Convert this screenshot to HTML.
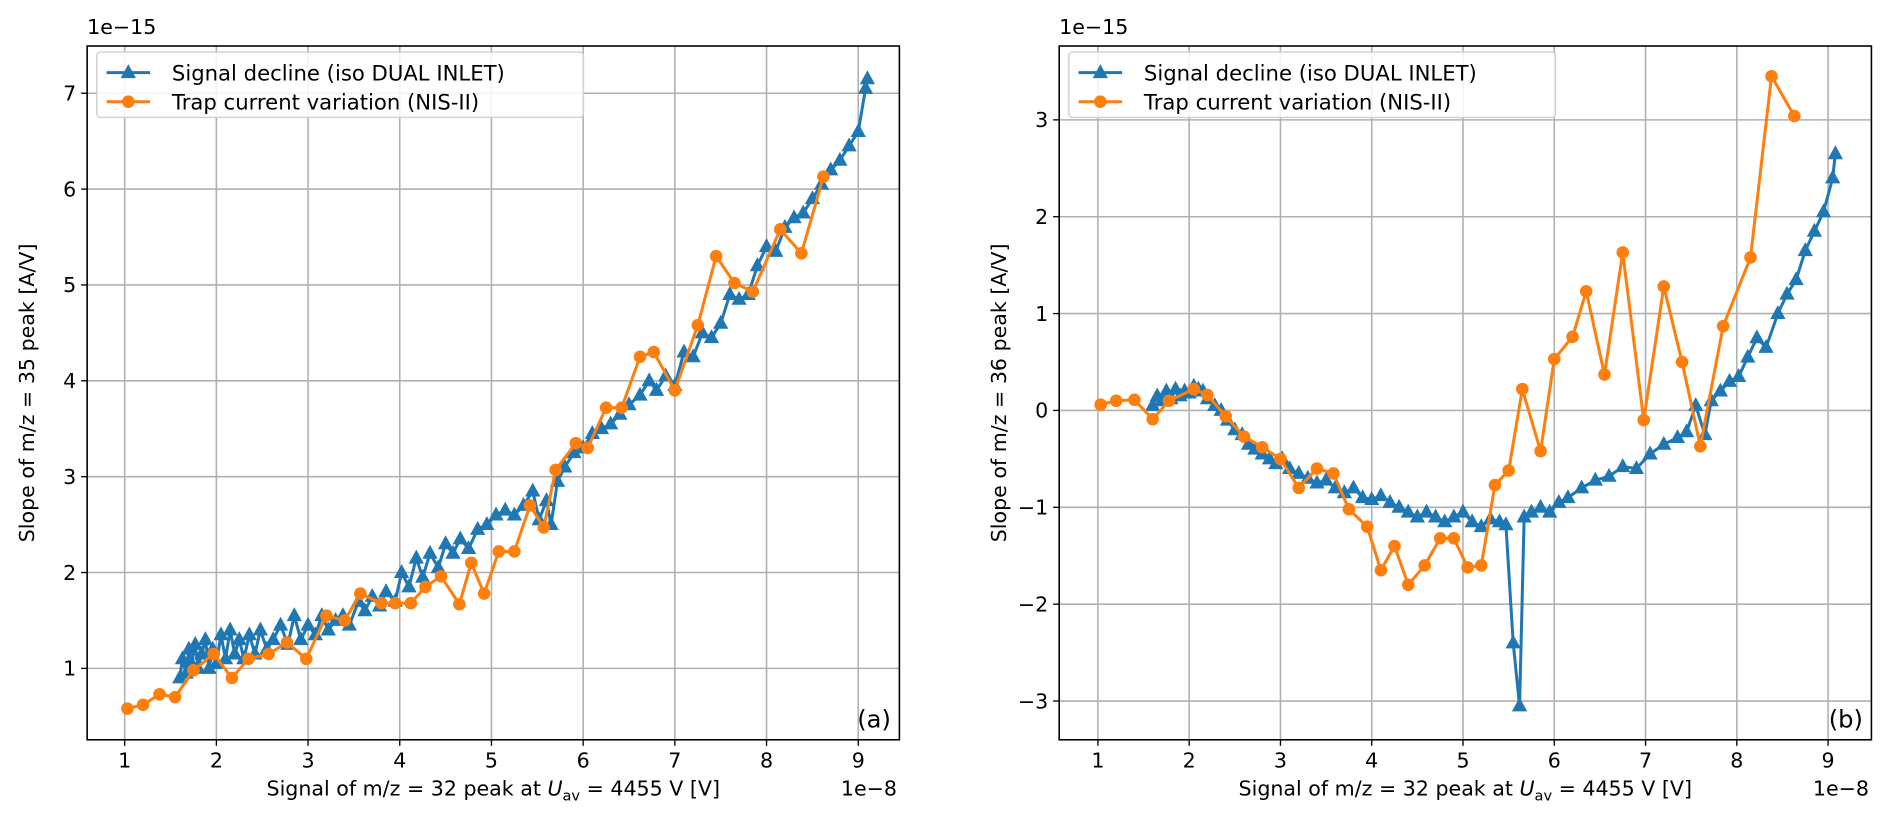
<!DOCTYPE html>
<html><head><meta charset="utf-8"><style>
html,body{margin:0;padding:0;background:#fff;}
svg{display:block;font-family:"DejaVu Sans","Liberation Sans",sans-serif;}
</style></head><body>
<svg id="fig" width="1892" height="833" viewBox="0 0 1563 688" preserveAspectRatio="none" xmlns="http://www.w3.org/2000/svg"></svg>
<script>
// ---- Data (x in 1e-8 V, y in 1e-15 A/V) ----
const aOrangeX=[1.03,1.2,1.38,1.55,1.75,1.97,2.17,2.35,2.57,2.77,2.98,3.2,3.4,3.57,3.8,3.95,4.12,4.28,4.45,4.65,4.78,4.92,5.08,5.25,5.42,5.57,5.7,5.92,6.05,6.25,6.42,6.62,6.77,7.0,7.25,7.45,7.65,7.85,8.15,8.38,8.62];
const aOrangeY=[0.58,0.62,0.73,0.7,0.98,1.15,0.9,1.1,1.15,1.27,1.1,1.55,1.5,1.78,1.68,1.68,1.68,1.85,1.96,1.67,2.1,1.78,2.22,2.22,2.7,2.47,3.07,3.35,3.3,3.72,3.72,4.25,4.3,3.9,4.58,5.3,5.02,4.93,5.58,5.33,6.13];
const aBlueX=[1.6,1.63,1.67,1.7,1.73,1.77,1.8,1.84,1.88,1.92,1.96,2.0,2.05,2.1,2.15,2.2,2.25,2.3,2.36,2.42,2.48,2.55,2.62,2.7,2.78,2.85,2.92,3.0,3.08,3.15,3.22,3.3,3.38,3.45,3.55,3.62,3.7,3.78,3.85,3.95,4.02,4.1,4.18,4.25,4.33,4.42,4.5,4.58,4.66,4.75,4.85,4.95,5.05,5.15,5.25,5.35,5.45,5.52,5.6,5.65,5.72,5.8,5.9,6.0,6.1,6.2,6.3,6.4,6.5,6.62,6.72,6.8,6.9,7.0,7.1,7.2,7.3,7.4,7.5,7.6,7.7,7.8,7.9,8.0,8.1,8.2,8.3,8.4,8.5,8.6,8.7,8.8,8.9,9.0,9.08,9.1];
const aBlueY=[0.9,1.1,0.95,1.2,1.05,1.25,1.0,1.15,1.3,1.0,1.2,1.05,1.35,1.1,1.4,1.15,1.3,1.1,1.35,1.15,1.4,1.2,1.3,1.45,1.25,1.55,1.3,1.45,1.35,1.55,1.4,1.5,1.55,1.45,1.7,1.6,1.75,1.65,1.8,1.7,2.0,1.85,2.15,1.95,2.2,2.05,2.3,2.2,2.35,2.25,2.45,2.5,2.6,2.65,2.6,2.7,2.85,2.55,2.75,2.5,2.95,3.1,3.25,3.3,3.45,3.5,3.55,3.65,3.75,3.85,4.0,3.9,4.05,3.95,4.3,4.25,4.5,4.45,4.6,4.9,4.85,4.9,5.2,5.4,5.35,5.6,5.7,5.75,5.9,6.05,6.2,6.3,6.45,6.6,7.05,7.15];
const bOrangeX=[1.03,1.2,1.4,1.6,1.78,2.05,2.2,2.4,2.6,2.8,3.0,3.2,3.4,3.58,3.75,3.95,4.1,4.25,4.4,4.58,4.75,4.9,5.05,5.2,5.35,5.5,5.65,5.85,6.0,6.2,6.35,6.55,6.75,6.98,7.2,7.4,7.6,7.85,8.15,8.38,8.63];
const bOrangeY=[0.06,0.1,0.11,-0.09,0.1,0.22,0.16,-0.06,-0.27,-0.38,-0.5,-0.8,-0.6,-0.65,-1.02,-1.2,-1.65,-1.4,-1.8,-1.6,-1.32,-1.32,-1.62,-1.6,-0.77,-0.62,0.22,-0.42,0.53,0.76,1.23,0.37,1.63,-0.1,1.28,0.5,-0.37,0.87,1.58,3.45,3.04];
const bBlueX=[1.6,1.65,1.7,1.75,1.8,1.85,1.9,1.95,2.0,2.05,2.1,2.15,2.2,2.28,2.35,2.42,2.5,2.58,2.65,2.72,2.8,2.88,2.95,3.02,3.1,3.2,3.3,3.4,3.5,3.6,3.7,3.8,3.9,4.0,4.1,4.2,4.3,4.4,4.5,4.6,4.7,4.8,4.9,5.0,5.1,5.2,5.3,5.4,5.47,5.55,5.62,5.67,5.75,5.85,5.95,6.05,6.15,6.3,6.45,6.6,6.75,6.9,7.05,7.2,7.35,7.45,7.55,7.65,7.72,7.82,7.92,8.02,8.12,8.22,8.32,8.45,8.55,8.65,8.75,8.85,8.95,9.05,9.08];
const bBlueY=[0.05,0.15,0.1,0.2,0.12,0.22,0.15,0.2,0.18,0.25,0.22,0.2,0.12,0.05,0.0,-0.1,-0.2,-0.25,-0.35,-0.4,-0.45,-0.5,-0.55,-0.5,-0.6,-0.65,-0.7,-0.75,-0.72,-0.8,-0.85,-0.8,-0.9,-0.92,-0.88,-0.95,-1.0,-1.05,-1.1,-1.05,-1.1,-1.15,-1.1,-1.05,-1.15,-1.2,-1.12,-1.15,-1.18,-2.4,-3.05,-1.1,-1.05,-1.0,-1.05,-0.95,-0.9,-0.8,-0.72,-0.68,-0.58,-0.6,-0.45,-0.35,-0.28,-0.22,0.05,-0.25,0.1,0.2,0.3,0.35,0.55,0.75,0.65,1.0,1.2,1.35,1.65,1.85,2.05,2.4,2.65];
const xTicks=[1,2,3,4,5,6,7,8,9];
const aYTicks=[1,2,3,4,5,6,7];
const bYTicks=[-3,-2,-1,0,1,2,3];

const NS="http://www.w3.org/2000/svg";
const svg=document.getElementById('fig');
function mk(tag,attrs,parent){const e=document.createElementNS(NS,tag);for(const k in attrs)e.setAttribute(k,attrs[k]);(parent||svg).appendChild(e);return e;}
const BLUE="#1f77b4",ORANGE="#ff7f0e";

function panel(cfg){
  const g=mk('g',{});
  
  
  const sx=v=>cfg.x1+(v-1)*cfg.xs;
  const sy=v=>cfg.y0-v*cfg.ys;
  xTicks.forEach(t=>{
    const l=mk('line',{x1:sx(t),x2:sx(t),y1:cfg.top,y2:cfg.bottom,stroke:'#b0b0b0','stroke-width':1.3},g);
    
    
    mk('line',{x1:sx(t),x2:sx(t),y1:cfg.bottom,y2:cfg.bottom+5,stroke:'#000','stroke-width':1.1},g);
    const tx=mk('text',{x:sx(t),y:cfg.bottom+23,'text-anchor':'middle','font-size':17,fill:'#000'},g);
    tx.textContent=t;
    
    
  });
  cfg.yTicks.forEach(t=>{
    const l=mk('line',{x1:cfg.left,x2:cfg.right,y1:sy(t),y2:sy(t),stroke:'#b0b0b0','stroke-width':1.3},g);
    
    
    mk('line',{x1:cfg.left-5,x2:cfg.left,y1:sy(t),y2:sy(t),stroke:'#000','stroke-width':1.1},g);
    const tx=mk('text',{x:cfg.left-9,y:sy(t)+6,'text-anchor':'end','font-size':17,fill:'#000'},g);
    tx.textContent=t<0?'\u2212'+Math.abs(t):t;
    
    
  });
  function series(xs,ys,color,marker,nm){
    const sg=mk('g',{},g);
    
    
    const pts=xs.map((x,i)=>sx(x)+','+sy(ys[i])).join(' ');
    mk('polyline',{points:pts,fill:'none',stroke:color,'stroke-width':2.5,'stroke-linejoin':'round'},sg);
    xs.forEach((x,i)=>{
      const cx=sx(x),cy=sy(ys[i]);
      let m;
      if(marker==='tri') m=mk('polygon',{points:`${cx},${cy-7} ${cx-6.3},${cy+4.5} ${cx+6.3},${cy+4.5}`,fill:color},sg);
      else m=mk('circle',{cx:cx,cy:cy,r:5.2,fill:color},sg);
      
      
    });
  }
  series(cfg.bx,cfg.by,BLUE,'tri','signal-decline-series');
  series(cfg.ox,cfg.oy,ORANGE,'dot','trap-current-series');
  const fr=mk('rect',{x:cfg.left,y:cfg.top,width:cfg.right-cfg.left,height:cfg.bottom-cfg.top,fill:'none',stroke:'#000','stroke-width':1.3},g);
  
  
  const lg=mk('g',{},g);
  
  
  const lx=cfg.left+8;
  mk('rect',{x:lx,y:cfg.top+5,width:402,height:54,rx:3,fill:'#fff','fill-opacity':0.85,stroke:'#d0d0d0','stroke-width':1.2},lg);
  [[BLUE,'tri','Signal decline (iso DUAL INLET)',cfg.top+22],[ORANGE,'dot','Trap current variation (NIS-II)',cfg.top+46]].forEach(([c,m,t,y])=>{
    const e=mk('g',{},lg);
    
    
    mk('line',{x1:lx+8,x2:lx+44,y1:y,y2:y,stroke:c,'stroke-width':2.5},e);
    const cx=lx+26;
    if(m==='tri') mk('polygon',{points:`${cx},${y-7} ${cx-6.3},${y+4.5} ${cx+6.3},${y+4.5}`,fill:c},e);
    else mk('circle',{cx:cx,cy:y,r:5.2,fill:c},e);
    const tx=mk('text',{x:lx+62,y:y+6.5,'font-size':17.5,fill:'#000'},e);
    tx.textContent=t;
  });
  const off=mk('text',{x:cfg.left,y:cfg.top-10,'font-size':17,fill:'#000'},g);
  off.textContent='1e\u221215';
  
  
  const offx=mk('text',{x:cfg.right-2,y:cfg.bottom+46,'text-anchor':'end','font-size':17,fill:'#000'},g);
  offx.textContent='1e\u22128';
  
  
  const xl=mk('text',{x:(cfg.left+cfg.right)/2,y:cfg.bottom+46,'text-anchor':'middle','font-size':17,fill:'#000'},g);
  xl.innerHTML='Signal of m/z = 32 peak at <tspan font-style="italic">U</tspan><tspan font-size="12" dy="4">av</tspan><tspan dy="-4"> = 4455 V [V]</tspan>';
  
  
  const yl=mk('text',{x:0,y:0,'text-anchor':'middle','font-size':17,fill:'#000',transform:`translate(${cfg.left-44},${(cfg.top+cfg.bottom)/2}) rotate(-90)`},g);
  yl.textContent=cfg.ylabel;
  
  
  const pl=mk('text',{x:cfg.right-7,y:cfg.bottom-10,'text-anchor':'end','font-size':20,fill:'#000'},g);
  pl.textContent=cfg.panelLabel;
  
  
}
panel({name:'panel-a',left:72,right:743,top:38,bottom:611,x1:103,xs:75.75,y0:631.2,ys:79.17,yTicks:aYTicks,
  bx:aBlueX,by:aBlueY,ox:aOrangeX,oy:aOrangeY,ylabel:'Slope of m/z = 35 peak [A/V]',panelLabel:'(a)'});
panel({name:'panel-b',left:875,right:1546,top:38,bottom:611,x1:907,xs:75.4,y0:339,ys:80,yTicks:bYTicks,
  bx:bBlueX,by:bBlueY,ox:bOrangeX,oy:bOrangeY,ylabel:'Slope of m/z = 36 peak [A/V]',panelLabel:'(b)'});
</script>
</body></html>
